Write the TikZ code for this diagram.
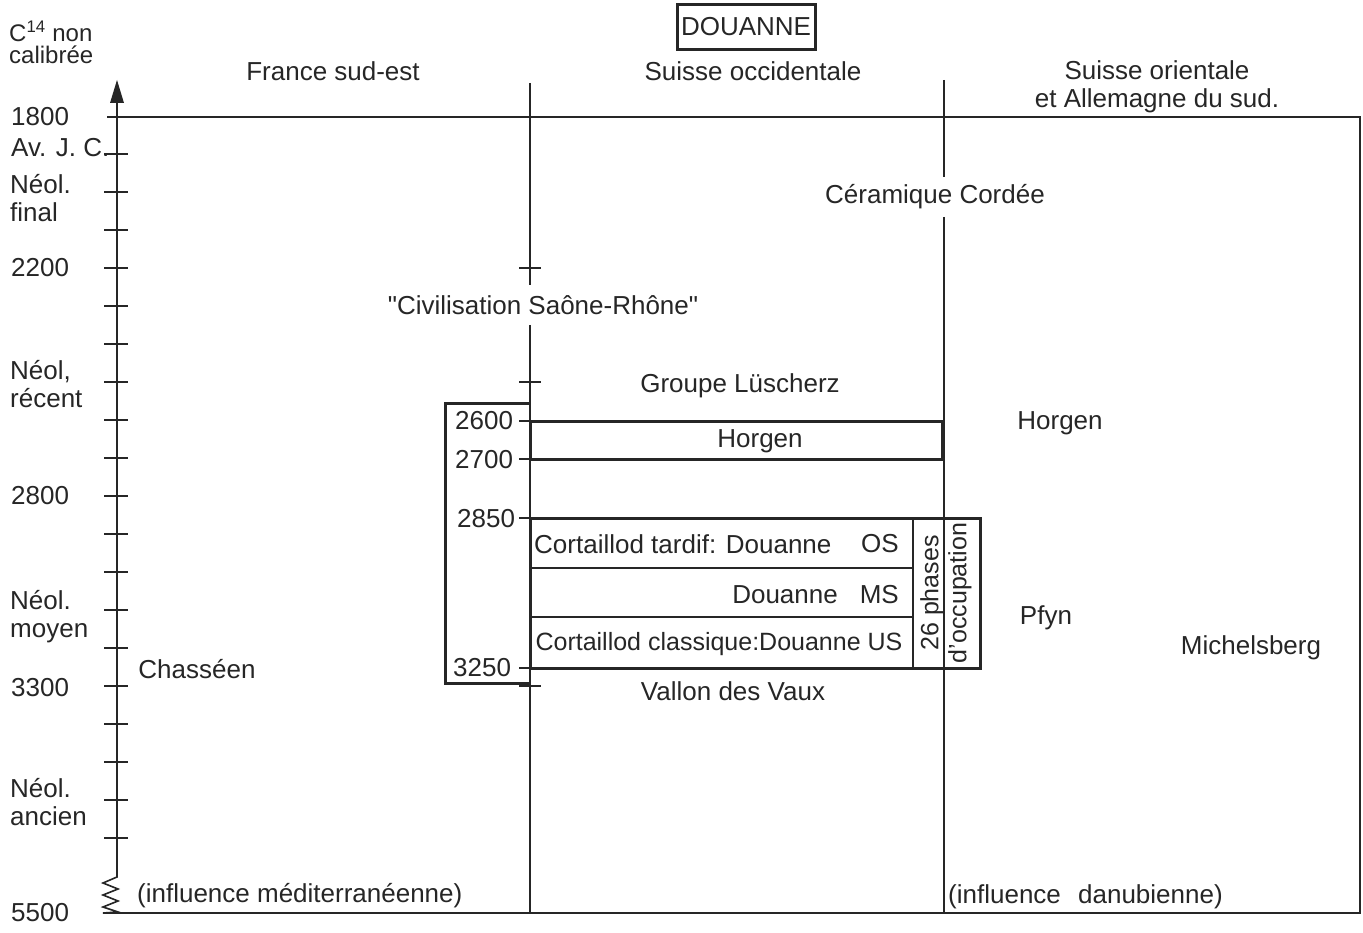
\documentclass[tikz,border=0pt]{standalone}
\usepackage{fontspec}
\setmainfont{Liberation Sans}
\definecolor{ink}{HTML}{262626}
\begin{document}
\begin{tikzpicture}[x=1pt,y=-1pt,
  thinline/.style={line width=1.6pt, draw=ink},
  thickbox/.style={line width=3pt, draw=ink},
  lbl/.style={font=\fontsize{26}{28}\selectfont, text=ink, inner sep=0pt},
  lblw/.style={lbl, anchor=west, align=left}]
\useasboundingbox (0,0) rectangle (1363,933);
% axis
\draw[thinline, line join=miter] (117,100) -- (117,877) -- (103,883) -- (118,889) -- (103,895) -- (118,901) -- (103,907) -- (118,912) -- (103,913) -- (1360,913) -- (1360,117) -- (107,117);
\fill[ink] (117,80) -- (110,103) -- (124,103) -- cycle;
\foreach \y in {154,192,...,838} \draw[thinline] (104,\y) -- (128,\y);
% column dividers
\draw[thinline] (530,83) -- (530,285);
\draw[thinline] (530,325) -- (530,913);
\draw[thinline] (944,80) -- (944,177);
\draw[thinline] (944,217) -- (944,913);
\foreach \y in {268,382,686} \draw[thinline] (519,\y) -- (541,\y);
\foreach \y in {421,459,518,668} \draw[thinline] (519,\y) -- (530,\y);
% boxes
\draw[thickbox] (530,403) -- (445,403) -- (445,683) -- (530,683);
\draw[thickbox] (530,421) rectangle (942,459);
\draw[thickbox] (530,518) rectangle (980,668);
\draw[thinline] (913,518) -- (913,668);
\draw[thinline] (530,568) -- (913,568);
\draw[thinline] (530,617) -- (913,617);
% title
\node[lbl, draw=ink, line width=3pt, minimum width=138pt, minimum height=45pt] (title) at (746,27) {DOUANNE};
% axis labels
\node[lblw, font=\fontsize{24}{24}\selectfont] (c14) at (9,31) {C\textsuperscript{14} non};
\node[lblw, font=\fontsize{24}{24}\selectfont] (calib) at (9,55) {calibrée};
\node[lblw] (l1800) at (11,117) {1800};
\node[lblw] (avjc) at (11,148) {Av. J. C.};
\node[lblw] (nfinal) at (10,198) {Néol.\\final};
\node[lblw] (l2200) at (11,268) {2200};
\node[lblw] (nrecent) at (10,384) {Néol,\\récent};
\node[lblw] (l2800) at (11,496) {2800};
\node[lblw] (nmoyen) at (10,617) {Néol.\\moyen};
\node[lblw] (l3300) at (11,688) {3300};
\node[lblw] (nancien) at (10,802) {Néol.\\ancien};
\node[lblw] (l5500) at (11,913) {5500};
% column headings
\node[lbl] (fse) at (333,71) {France sud-est};
\node[lbl] (socc) at (753,71) {Suisse occidentale};
\node[lbl, align=center] (sor) at (1157,87) {Suisse orientale\\et Allemagne du sud.};
% content
\node[lbl] (cc) at (935,197) {Céramique Cordée};
\node[lbl] (csr) at (543,305) {\textquotedbl Civilisation Saône-Rhône\textquotedbl};
\node[lbl] (gl) at (740,386) {Groupe Lüscherz};
\node[lbl] (horgen1) at (760,441) {Horgen};
\node[lbl] (horgen2) at (1060,423) {Horgen};
\node[lblw] (d2600) at (455,421) {2600};
\node[lblw] (d2700) at (455,460) {2700};
\node[lblw] (d2850) at (457,519) {2850};
\node[lblw] (d3250) at (453,668) {3250};
\node[lblw] (os) at (534,544) {Cortaillod tardif: Douanne};
\node[lbl, anchor=east] (osr) at (899,544) {OS};
\node[lbl, anchor=east] (ms) at (899,595) {Douanne\hspace{22pt}MS};
\node[lbl, anchor=center, font=\fontsize{25}{28}\selectfont] (us) at (719,644) {Cortaillod classique:Douanne US};
\node[lbl, rotate=90, align=center, font=\fontsize{25}{28}\selectfont] (phases) at (946,593) {26 phases\\d'occupation};
\node[lbl] (pfyn) at (1046,618) {Pfyn};
\node[lbl] (mich) at (1251,648) {Michelsberg};
\node[lbl] (chas) at (197,669) {Chasséen};
\node[lbl] (vdv) at (733,691) {Vallon des Vaux};
\node[lblw] (imed) at (137,896) {(influence méditerranéenne)};
\node[lblw] (idan) at (948,897) {(influence\hspace{10pt} danubienne)};
\end{tikzpicture}
\end{document}
